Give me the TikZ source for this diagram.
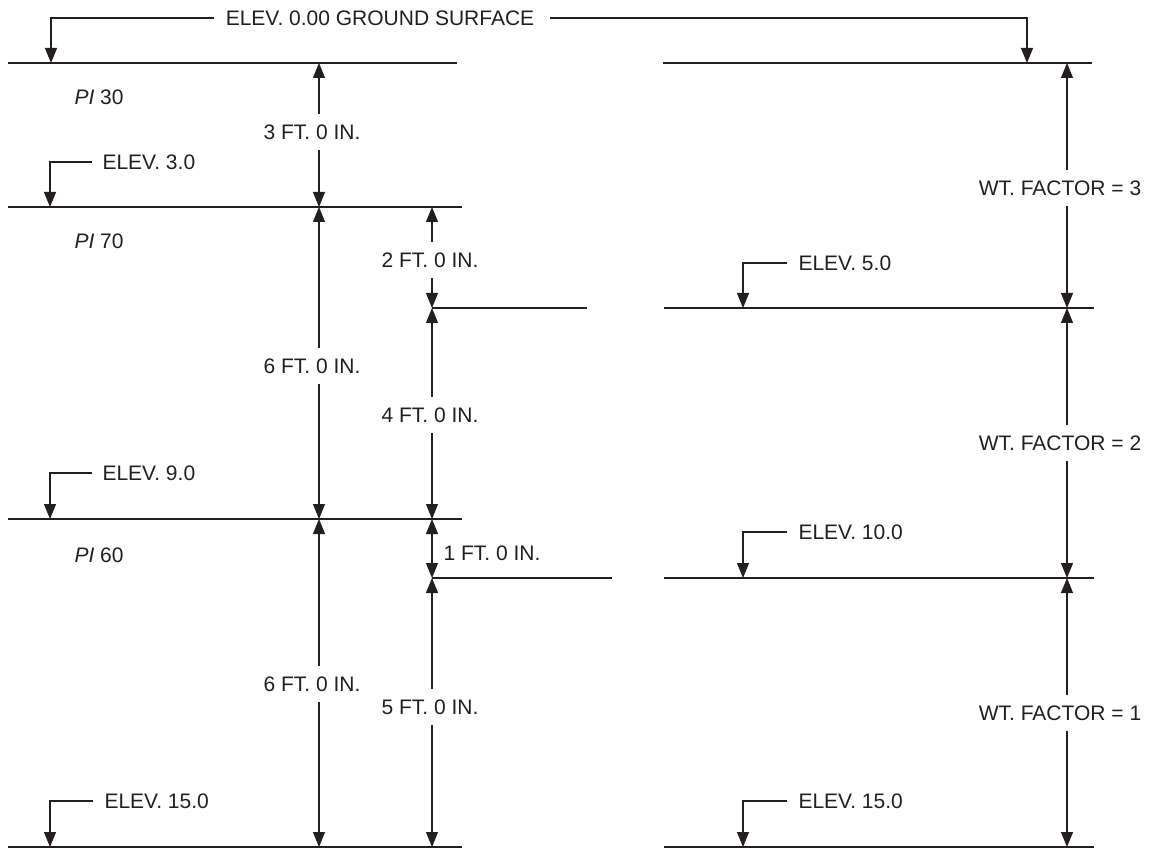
\documentclass[tikz,border=0pt]{standalone}
\usepackage{fontspec}
\setmainfont{Liberation Sans}
\usetikzlibrary{arrows.meta}
\definecolor{ink}{RGB}{35,31,32}
\begin{document}
\begin{tikzpicture}[x=1pt,y=-1pt, line width=1.1pt, draw=ink,
  every node/.style={font=\fontsize{21}{25}\selectfont, text=ink, inner sep=0pt},
  tip/.style={-{Triangle[length=15pt,width=12pt]}},
  tips/.style={{Triangle[length=15pt,width=12pt]}-{Triangle[length=15pt,width=12pt]}},
  dimlab/.style={inner ysep=10pt, inner xsep=0pt, text height=15pt, text depth=0pt},
  elevlab/.style={anchor=west, text height=15pt, text depth=0pt},
  pilab/.style={anchor=west}]
\useasboundingbox (0,0) rectangle (1149,850);

% ---------- surface / layer lines ----------
\coordinate (LA0) at (8,63);    \coordinate (LB0) at (457,63);
\coordinate (LA1) at (8,207);   \coordinate (LB1) at (462,207);
\coordinate (LA2) at (8,519);   \coordinate (LB2) at (462,519);
\coordinate (LA3) at (8,847);   \coordinate (LB3) at (462,847);
\coordinate (MA1) at (432,308); \coordinate (MB1) at (587,308);
\coordinate (MA2) at (432,578); \coordinate (MB2) at (612,578);
\coordinate (RA0) at (663,63);  \coordinate (RB0) at (1092,63);
\coordinate (RA1) at (664,308); \coordinate (RB1) at (1094,308);
\coordinate (RA2) at (664,578); \coordinate (RB2) at (1094,578);
\coordinate (RA3) at (664,847); \coordinate (RB3) at (1094,847);
\draw (LA0) -- (LB0);
\draw (LA1) -- (LB1);
\draw (LA2) -- (LB2);
\draw (LA3) -- (LB3);
\draw (MA1) -- (MB1);
\draw (MA2) -- (MB2);
\draw (RA0) -- (RB0);
\draw (RA1) -- (RB1);
\draw (RA2) -- (RB2);
\draw (RA3) -- (RB3);

% ---------- ground surface leader ----------
\node[elevlab, anchor=center] (gs) at (380,18) {ELEV. 0.00 GROUND SURFACE};
\coordinate (gsl) at (51,63);
\coordinate (gsr) at (1027,63);
\draw[tip] ([xshift=-11pt]gs.west) -| (gsl);
\draw[tip] ([xshift=15pt]gs.east) -| (gsr);

% ---------- PI labels ----------
\node[pilab] (pi30) at (74,97)  {\textit{PI} 30};
\node[pilab] (pi70) at (74,241) {\textit{PI} 70};
\node[pilab] (pi60) at (74,555) {\textit{PI} 60};

% ---------- left elevation leaders ----------
\node[elevlab] (el3)  at (102,162) {ELEV. 3.0};
\node[elevlab] (el9)  at (102,473) {ELEV. 9.0};
\node[elevlab] (el15) at (104,801) {ELEV. 15.0};
\coordinate (t3)  at (50,207);
\coordinate (t9)  at (50,519);
\coordinate (t15) at (50,847);
\draw[tip] ([xshift=-10pt]el3.west)  -| (t3);
\draw[tip] ([xshift=-10pt]el9.west)  -| (t9);
\draw[tip] ([xshift=-11pt]el15.west) -| (t15);

% ---------- right elevation leaders ----------
\node[elevlab] (el5)   at (798,263) {ELEV. 5.0};
\node[elevlab] (el10)  at (798,532) {ELEV. 10.0};
\node[elevlab] (el15r) at (798,801) {ELEV. 15.0};
\coordinate (t5)   at (743,308);
\coordinate (t10)  at (743,578);
\coordinate (t15r) at (743,847);
\draw[tip] ([xshift=-11pt]el5.west)   -| (t5);
\draw[tip] ([xshift=-11pt]el10.west)  -| (t10);
\draw[tip] ([xshift=-11pt]el15r.west) -| (t15r);

% ---------- dimension column x=319 ----------
\coordinate (d0) at (319,63);
\coordinate (d1) at (319,207);
\coordinate (d2) at (319,519);
\coordinate (d3) at (319,847);
\node[dimlab] (f3)  at (312,132) {3 FT. 0 IN.};
\node[dimlab] (f6a) at (312,366) {6 FT. 0 IN.};
\node[dimlab] (f6b) at (312,684) {6 FT. 0 IN.};
\draw[tip] (f3.north -| d0)  -- (d0);
\draw[tip] (f3.south -| d0)  -- (d1);
\draw[tip] (f6a.north -| d0) -- (d1);
\draw[tip] (f6a.south -| d0) -- (d2);
\draw[tip] (f6b.north -| d0) -- (d2);
\draw[tip] (f6b.south -| d0) -- (d3);

% ---------- dimension column x=432 ----------
\coordinate (e1) at (432,207);
\coordinate (e2) at (432,308);
\coordinate (e3) at (432,519);
\coordinate (e4) at (432,578);
\coordinate (e5) at (432,847);
\node[dimlab] (f2) at (430,260) {2 FT. 0 IN.};
\node[dimlab] (f4) at (430,415) {4 FT. 0 IN.};
\node[dimlab] (f5) at (430,707) {5 FT. 0 IN.};
\node[elevlab] (f1) at (443,553) {1 FT. 0 IN.};
\draw[tip] (f2.north -| e1) -- (e1);
\draw[tip] (f2.south -| e1) -- (e2);
\draw[tip] (f4.north -| e1) -- (e2);
\draw[tip] (f4.south -| e1) -- (e3);
\draw[tips] (e3) -- (e4);
\draw[tip] (f5.north -| e1) -- (e4);
\draw[tip] (f5.south -| e1) -- (e5);

% ---------- weighting column x=1067 ----------
\coordinate (w0) at (1067,63);
\coordinate (w1) at (1067,308);
\coordinate (w2) at (1067,578);
\coordinate (w3) at (1067,847);
\node[dimlab] (wf3) at (1060,188) {WT. FACTOR = 3};
\node[dimlab] (wf2) at (1060,443) {WT. FACTOR = 2};
\node[dimlab] (wf1) at (1060,713) {WT. FACTOR = 1};
\draw[tip] (wf3.north -| w0) -- (w0);
\draw[tip] (wf3.south -| w0) -- (w1);
\draw[tip] (wf2.north -| w0) -- (w1);
\draw[tip] (wf2.south -| w0) -- (w2);
\draw[tip] (wf1.north -| w0) -- (w2);
\draw[tip] (wf1.south -| w0) -- (w3);
\end{tikzpicture}
\end{document}
